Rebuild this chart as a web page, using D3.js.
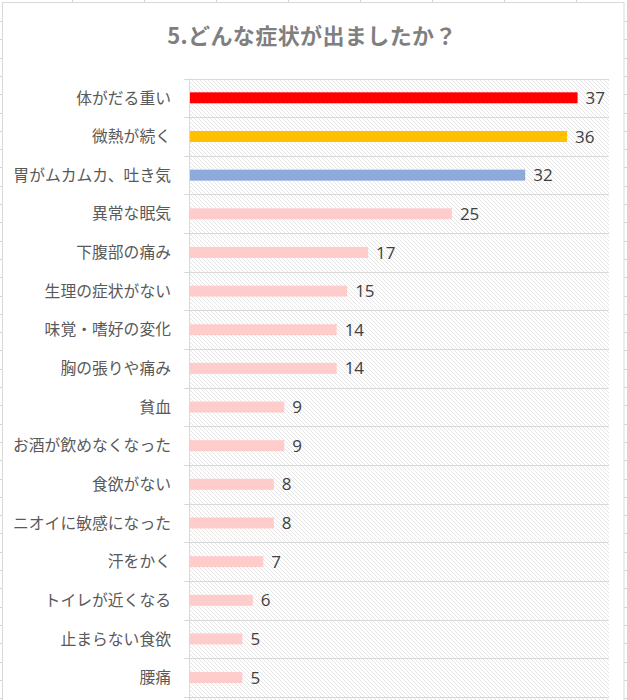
<!DOCTYPE html>
<html><head><meta charset="utf-8">
<script src="https://cdn.jsdelivr.net/npm/d3@7"></script>
<style>body{margin:0;background:#fff;}svg{display:block;}</style>
</head><body>
<svg id="c" width="627" height="700"></svg>
<script>
const title = "5.どんな症状が出ましたか？";
const categories = ["体がだる重い","微熱が続く","胃がムカムカ、吐き気","異常な眠気","下腹部の痛み","生理の症状がない","味覚・嗜好の変化","胸の張りや痛み","貧血","お酒が飲めなくなった","食欲がない","ニオイに敏感になった","汗をかく","トイレが近くなる","止まらない食欲","腰痛"];
const values = [37,36,32,25,17,15,14,14,9,9,8,8,7,6,5,5];
const barColors = ["#FF0000","#FFC000","#8EAADB","#FFCCCC","#FFCCCC","#FFCCCC","#FFCCCC","#FFCCCC","#FFCCCC","#FFCCCC","#FFCCCC","#FFCCCC","#FFCCCC","#FFCCCC","#FFCCCC","#FFCCCC"];
const xDomain = [0, 40];

const svg = d3.select("#c");
const font = "'Noto Sans CJK JP','Noto Sans',sans-serif";

// spreadsheet background grid outside chart
const sheet = svg.append("g").attr("stroke","#d4d4d4").attr("stroke-width",1);
d3.range(72, 627, 72).forEach(xx => sheet.append("line").attr("x1",xx+0.5).attr("x2",xx+0.5).attr("y1",0).attr("y2",3));
d3.range(21, 700, 18.3).forEach(yy => {
  sheet.append("line").attr("x1",0).attr("x2",3).attr("y1",Math.round(yy)+0.5).attr("y2",Math.round(yy)+0.5);
  sheet.append("line").attr("x1",624).attr("x2",627).attr("y1",Math.round(yy)+0.5).attr("y2",Math.round(yy)+0.5);
});
// chart area
svg.append("rect").attr("x",2.5).attr("y",2.5).attr("width",621.5).attr("height",710)
  .attr("fill","#fff").attr("stroke","#d9d9d9").attr("stroke-width",1);

// hatch pattern
const defs = svg.append("defs");
const pat = defs.append("pattern").attr("id","hatch").attr("patternUnits","userSpaceOnUse")
  .attr("width",4).attr("height",4);
pat.append("path").attr("d","M0,0 L4,4 M-1,3 L1,5 M3,-1 L5,1")
  .attr("stroke","#dedede").attr("stroke-width",0.8).attr("fill","none");

const plotLeft = 190, plotRight = 609, plotTop = 78.5, step = 38.65;
const x = d3.scaleLinear().domain(xDomain).range([plotLeft, plotRight]);
const pad = 1 - 11/step;
const y = d3.scaleBand().domain(categories).range([plotTop, plotTop + step*categories.length])
  .paddingInner(pad).paddingOuter(pad/2);

// plot area hatch
svg.append("rect").attr("x",plotLeft).attr("y",plotTop).attr("width",plotRight-plotLeft).attr("height",y.range()[1]-plotTop+10)
  .attr("fill","url(#hatch)");

// horizontal gridlines at band boundaries
const bounds = d3.range(categories.length+1).map(i => plotTop + i*y.step());
svg.append("g").selectAll("line").data(bounds).join("line")
  .attr("x1",plotLeft-6).attr("x2",plotRight).attr("y1",d=>Math.round(d)+0.5).attr("y2",d=>Math.round(d)+0.5)
  .attr("stroke","#d9d9d9").attr("stroke-width",1);
// category axis line
svg.append("line").attr("x1",plotLeft-0.5).attr("x2",plotLeft-0.5).attr("y1",plotTop).attr("y2",712)
  .attr("stroke","#d9d9d9").attr("stroke-width",1);

// bars
svg.append("g").selectAll("rect").data(values).join("rect")
  .attr("x",x(0)).attr("y",(d,i)=>y(categories[i]))
  .attr("width",d=>x(d)-x(0)).attr("height",y.bandwidth())
  .attr("fill",(d,i)=>barColors[i]);

// value labels
svg.append("g").selectAll("text").data(values).join("text")
  .attr("x",d=>x(d)+8).attr("y",(d,i)=>y(categories[i])+y.bandwidth()/2)
  .attr("dy","0.36em").attr("fill","#404040")
  .style("font-family","'Open Sans','Noto Sans',sans-serif").style("font-size","17px").style("font-weight","400").text(d=>d);

// category labels
svg.append("g").selectAll("text").data(categories).join("text")
  .attr("x",171).attr("y",d=>y(d)+y.bandwidth()/2).attr("dy","0.36em")
  .attr("text-anchor","end").attr("fill","#595959")
  .style("font-family",font).style("font-size","15.8px").text(d=>d);

// title
svg.append("text").attr("x",312).attr("y",44).attr("text-anchor","middle")
  .attr("fill","#7f7f7f").style("font-family",font).style("font-size","22px").style("font-weight","bold")
  .style("letter-spacing","0.4px")
  .text(title);
</script>
</body></html>
